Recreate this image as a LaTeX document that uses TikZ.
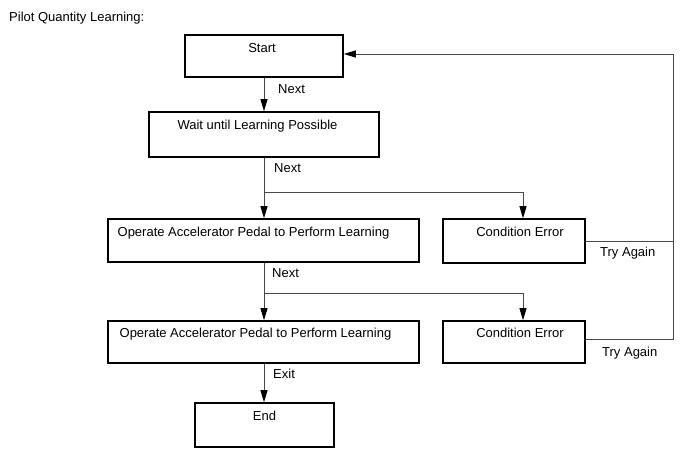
\documentclass[tikz,border=0pt]{standalone}
\usepackage{fontspec}
\setmainfont{Liberation Sans}
\usetikzlibrary{arrows.meta}
\begin{document}
\begin{tikzpicture}[x=1pt,y=-1pt,
  font=\fontsize{13}{15}\selectfont,
  box/.style={draw=black, line width=1.6pt, inner sep=0pt, text height=17.5pt},
  conn/.style={draw=black!72, line width=0.9pt},
  arr/.style={conn, -{Triangle[length=12pt,width=7pt,color=black]}},
  lbl/.style={anchor=base west, inner sep=0pt}]
\path[use as bounding box] (0,0) rectangle (688,463);

\node[lbl] (title) at (9,21) {Pilot Quantity Learning:};

\node[box, minimum width=158pt, minimum height=42pt, text depth=24.5pt] (S) at (264,56) {Start\hspace*{4pt}};
\node[box, minimum width=230pt, minimum height=45pt, text depth=27.5pt] (W) at (264,134.5) {Wait until Learning Possible\hspace*{13pt}};
\node[box, minimum width=311pt, minimum height=43pt, text depth=25.5pt] (O1) at (263.5,240.5) {Operate Accelerator Pedal to Perform Learning\hspace*{20pt}};
\node[box, minimum width=142pt, minimum height=44pt, text depth=26.5pt] (C1) at (514,241) {\hspace*{12pt}Condition Error};
\node[box, minimum width=311pt, minimum height=42pt, text depth=25.5pt, text height=16.5pt] (O2) at (263.5,342) {Operate Accelerator Pedal to Perform Learning\hspace*{16pt}};
\node[box, minimum width=142pt, minimum height=42pt, text depth=25.5pt, text height=16.5pt] (C2) at (514,342) {\hspace*{12pt}Condition Error};
\node[box, minimum width=139pt, minimum height=44pt, text depth=26.5pt] (E) at (264.5,425) {End};

\coordinate (b1) at (264,192);
\coordinate (b2) at (264,293);
\coordinate (r0) at (673,54);
\coordinate (r1) at (673,241);
\coordinate (r2) at (673,339);

% Start -> Wait
\draw[arr] (S.south) -- (W.north);
\node[lbl] (n1) at (278,93) {Next};

% Wait -> Operate1 / Condition Error 1
\draw[conn] (W.south) -- (b1);
\draw[arr] (b1) -- (b1 |- O1.north);
\draw[arr] (b1) -| ([xshift=9pt]C1.north);
\node[lbl] (n2) at (274,172) {Next};

% Operate1 -> Operate2 / Condition Error 2
\draw[conn] (b1 |- O1.south) -- (b2);
\draw[arr] (b2) -- (b2 |- O2.north);
\draw[arr] (b2) -| ([xshift=9pt]C2.north);
\node[lbl] (n3) at (272,277) {Next};

% Operate2 -> End
\draw[arr] (b2 |- O2.south) -- (b2 |- E.north);
\node[lbl] (n4) at (273,378) {Exit};

% Try again loops
\draw[conn] (C1.east) -- (r1);
\draw[conn] ([yshift=3pt]C2.east) -- (r2) -- (r0);
\draw[arr] (r0) -- (S.east |- r0);
\node[lbl] (t1) at (600,256) {Try Again};
\node[lbl] (t2) at (602,356) {Try Again};
\end{tikzpicture}
\end{document}
